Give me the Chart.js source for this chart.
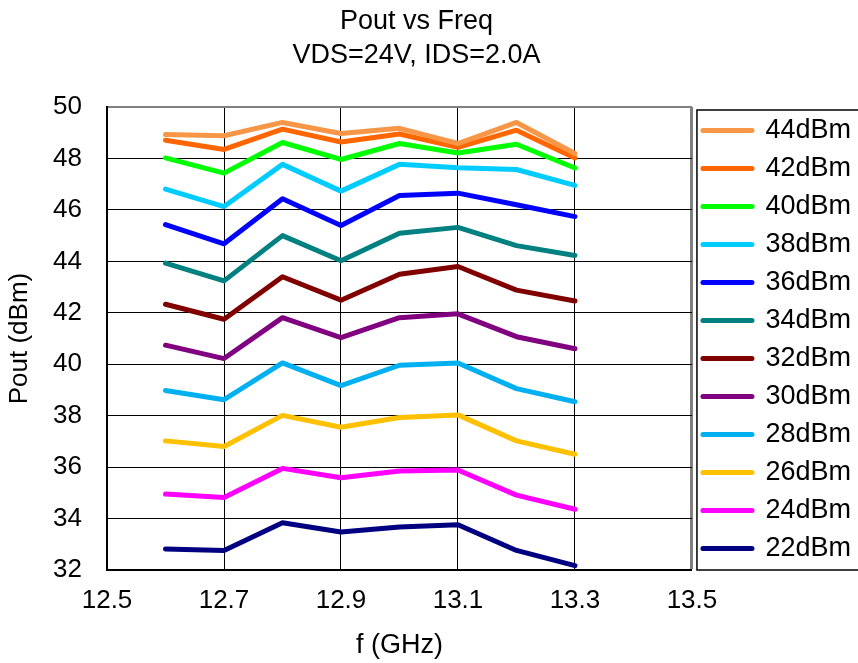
<!DOCTYPE html>
<html>
<head>
<meta charset="utf-8">
<script src="https://cdn.jsdelivr.net/npm/chart.js@4"></script>
<style>
  body { margin: 0; background: #fff; }
  #wrap { width: 858px; height: 663px; overflow: hidden; }
</style>
</head>
<body>
<div id="wrap"><canvas id="chart" width="858" height="663"></canvas></div>
<script>
// Data
const freqs = [12.6, 12.7, 12.8, 12.9, 13.0, 13.1, 13.2, 13.3];
const driveLabels = ['44dBm', '42dBm', '40dBm', '38dBm', '36dBm', '34dBm',
                     '32dBm', '30dBm', '28dBm', '26dBm', '24dBm', '22dBm'];
const pout44 = [48.93, 48.88, 49.40, 48.97, 49.17, 48.58, 49.40, 48.19];
const pout42 = [48.71, 48.35, 49.14, 48.64, 48.95, 48.43, 49.10, 48.02];
const pout40 = [48.02, 47.43, 48.62, 47.96, 48.58, 48.21, 48.55, 47.63];
const pout38 = [46.81, 46.13, 47.77, 46.73, 47.77, 47.64, 47.57, 46.95];
const pout36 = [45.43, 44.68, 46.43, 45.39, 46.56, 46.65, 46.20, 45.74];
const pout34 = [43.93, 43.24, 45.00, 44.02, 45.09, 45.32, 44.61, 44.23];
const pout32 = [42.33, 41.75, 43.40, 42.49, 43.50, 43.80, 42.88, 42.46];
const pout30 = [40.74, 40.22, 41.81, 41.03, 41.81, 41.96, 41.07, 40.60];
const pout28 = [38.98, 38.62, 40.05, 39.17, 39.96, 40.05, 39.05, 38.54];
const pout26 = [37.02, 36.80, 38.01, 37.55, 37.93, 38.03, 37.02, 36.50];
const pout24 = [34.95, 34.82, 35.95, 35.59, 35.85, 35.89, 34.91, 34.36];
const pout22 = [32.82, 32.76, 33.84, 33.48, 33.67, 33.76, 32.76, 32.17];
const series = [pout44, pout42, pout40, pout38, pout36, pout34,
                pout32, pout30, pout28, pout26, pout24, pout22];
const colors = ['#F79646', '#FF6600', '#00FF00', '#00CCFF', '#0000FF', '#008080',
                '#800000', '#800080', '#00B0F0', '#FFC000', '#FF00FF', '#000080'];

const FONT = '"Liberation Sans", Arial, sans-serif';

const datasets = series.map((vals, i) => ({
  label: driveLabels[i],
  data: vals.map((v, j) => ({ x: freqs[j], y: v })),
  borderColor: colors[i],
  backgroundColor: colors[i],
  borderWidth: 5,
  borderCapStyle: 'round',
  borderJoinStyle: 'round',
  pointRadius: 0,
  pointHoverRadius: 0,
  pointStyle: 'line',
  tension: 0
}));

// box round the legend, like the Excel original
const legendFrame = {
  id: 'legendFrame',
  afterDraw(chart) {
    const lg = chart.legend;
    const area = chart.chartArea;
    const c = chart.ctx;
    c.save();
    c.strokeStyle = '#000';
    c.lineWidth = 1.5;
    c.strokeRect(lg.left + 5, area.top + 3, chart.width, area.bottom - area.top - 3);
    c.restore();
  }
};

new Chart(document.getElementById('chart'), {
  type: 'line',
  data: { datasets },
  plugins: [legendFrame],
  options: {
    responsive: false,
    animation: false,
    // negative left padding only moves the centred title a little left
    layout: { padding: { left: -28, right: -3, top: 0, bottom: 0 } },
    plugins: {
      title: {
        display: true,
        text: ['Pout vs Freq', 'VDS=24V, IDS=2.0A'],
        color: '#000',
        font: { family: FONT, size: 27, weight: 'normal', lineHeight: '34px' },
        padding: { top: 5, bottom: 34 }
      },
      legend: {
        position: 'right',
        align: 'center',
        title: { display: true, text: ' ', padding: 0, font: { size: 10, lineHeight: '16px' } },
        labels: {
          color: '#000',
          font: { family: FONT, size: 27 },
          padding: 11,
          usePointStyle: true,
          pointStyle: 'line',
          pointStyleWidth: 49,
          generateLabels: chart => Chart.defaults.plugins.legend.labels.generateLabels(chart)
            .map(l => ({ ...l, lineWidth: 5, lineCap: 'round' }))
        }
      },
      tooltip: { enabled: false }
    },
    scales: {
      x: {
        type: 'linear',
        min: 12.5,
        max: 13.5,
        ticks: {
          stepSize: 0.2,
          color: '#000',
          padding: 0,
          font: { family: FONT, size: 26 },
          callback: v => v.toFixed(1)
        },
        grid: {
          tickLength: 15,
          tickColor: 'rgba(0,0,0,0)',
          color: c => Math.abs(c.tick.value - 13.5) < 1e-6 ? '#808080' : '#000',
          lineWidth: c => Math.abs(c.tick.value - 13.5) < 1e-6 ? 3 : 1
        },
        border: { color: '#000', width: 2 },
        title: {
          display: true,
          text: 'f (GHz)',
          color: '#000',
          font: { family: FONT, size: 27 },
          padding: { top: 13.4, bottom: 1 }
        }
      },
      y: {
        min: 32,
        max: 50,
        ticks: {
          stepSize: 2,
          color: '#000',
          padding: 0,
          font: { family: FONT, size: 26 }
        },
        grid: {
          tickLength: 25,
          tickColor: 'rgba(0,0,0,0)',
          color: c => c.tick.value === 50 ? '#808080' : '#000',
          lineWidth: c => c.tick.value === 50 ? 2 : 1
        },
        border: { color: '#000', width: 2 },
        title: {
          display: true,
          text: 'Pout (dBm)',
          color: '#000',
          font: { family: FONT, size: 26 },
          padding: { top: 32.4, bottom: 17.5 }
        }
      }
    }
  }
});
</script>
</body>
</html>
